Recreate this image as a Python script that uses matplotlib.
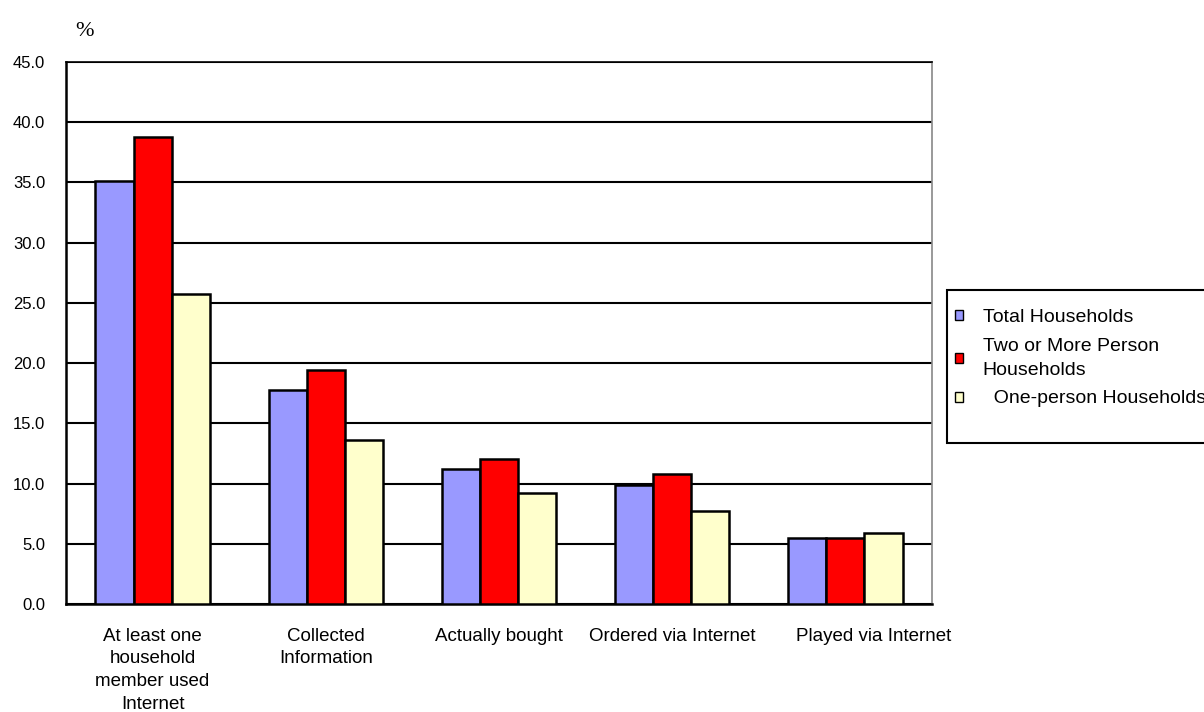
import numpy as np
import matplotlib
matplotlib.use("Agg")
import matplotlib.pyplot as plt
import matplotlib.transforms as mtransforms
from matplotlib.patches import Patch, Rectangle

plt.rcParams['font.family'] = ['Liberation Sans', 'DejaVu Sans']

# Share of households (%) by kind of internet use
categories = ['At least one\nhousehold\nmember used\nInternet',
              'Collected\nInformation',
              'Actually bought',
              'Ordered via Internet',
              'Played via Internet']
total_households = [35.1, 17.8, 11.2, 9.9, 5.5]
two_or_more = [38.8, 19.4, 12.0, 10.8, 5.5]
one_person = [25.7, 13.6, 9.2, 7.7, 5.9]

series_labels = ['Total Households', 'Two or More Person\nHouseholds', '  One-person Households']
series_colors = ['#9999FF', '#FF0000', '#FFFFCC']
yticks = [0, 5, 10, 15, 20, 25, 30, 35, 40, 45]

W, H = 1204, 712
fig = plt.figure(figsize=(W / 100, H / 100), dpi=100)
ax = fig.add_axes([66 / W, 108 / H, 866 / W, 542 / H])

x = np.arange(len(categories))
width = 0.22
for i, (vals, color) in enumerate(zip([total_households, two_or_more, one_person], series_colors)):
    ax.bar(x + (i - 1) * width, vals, width, color=color, edgecolor='black',
           linewidth=1.8, zorder=3)

ax.set_xlim(-0.5, len(categories) - 0.5)
ax.set_ylim(0, 45)
ax.set_yticks(yticks)
ax.set_yticklabels([f'{v:.1f}' for v in yticks], fontsize=12)
ax.tick_params(axis='y', length=0, pad=15)
ax.yaxis.grid(True, color='black', linewidth=1.5, zorder=0)
ax.set_axisbelow(True)

ax.set_xticks(x)
ax.set_xticklabels(categories, fontsize=13.5, va='top', linespacing=1.45)
ax.tick_params(axis='x', length=0, pad=17)

# last label sits a bit to the right so it doesn't crowd its neighbour
last = ax.get_xticklabels()[-1]
last.set_transform(last.get_transform() +
                   mtransforms.ScaledTranslation(28 / 100, 0, fig.dpi_scale_trans))

for side in ['left', 'bottom']:
    ax.spines[side].set_color('black')
    ax.spines[side].set_linewidth(1.8)
ax.spines['top'].set_color('black')
ax.spines['top'].set_linewidth(1.2)
ax.spines['right'].set_color('#888888')
ax.spines['right'].set_linewidth(1.2)

fig.text(75 / W, 1 - 31 / H, '%', fontsize=16, family='Liberation Serif',
         ha='left', va='center')

# legend box runs off the right edge of the figure
fig.patches.append(Rectangle((947 / W, 1 - 443 / H), 300 / W, 153 / H,
                             transform=fig.transFigure, facecolor='white',
                             edgecolor='black', linewidth=1.5, zorder=1))
handles = [Patch(facecolor=c, edgecolor='black', linewidth=1.0) for c in series_colors]
leg = fig.legend(handles, series_labels, loc='upper left',
                 bbox_to_anchor=(955 / W, 1 - 309 / H),
                 fontsize=14, frameon=False,
                 handlelength=0.42, handleheight=0.42,
                 handletextpad=1.0, labelspacing=0.6, borderpad=0,
                 borderaxespad=0)
for t in leg.get_texts():
    t.set_linespacing(1.55)
leg.set_zorder(2)

fig.savefig('out.png', dpi=100)
